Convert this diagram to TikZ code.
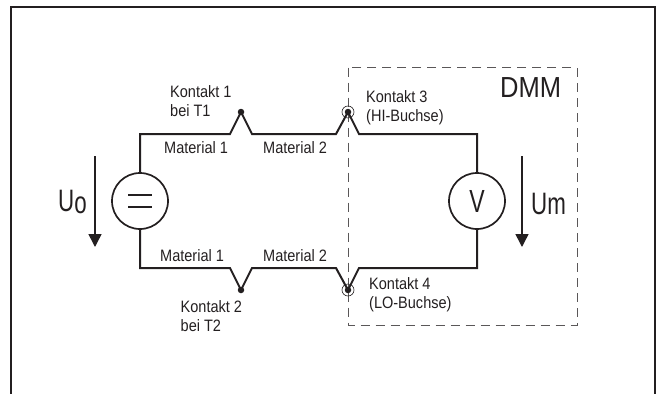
\documentclass[tikz,border=0pt]{standalone}
\usepackage{fontspec}
\setmainfont[FakeStretch=0.88]{Liberation Sans}
\newfontfamily\narrowfont[FakeStretch=0.72]{Liberation Sans}
\usetikzlibrary{arrows.meta}
\definecolor{ink}{HTML}{231F20}
\tikzset{
  lbl/.style={anchor=base west,inner sep=0pt,text=ink,font=\fontsize{16.5}{18}\selectfont},
  big/.style={anchor=base west,inner sep=0pt,text=ink,font=\fontsize{29}{30}\selectfont},
  tall/.style={anchor=base west,inner sep=0pt,text=ink,font=\narrowfont\fontsize{31}{32}\selectfont},
  wire/.style={draw=ink,line width=2pt,line join=miter},
  meter/.style={circle,draw=ink,line width=1.7pt,minimum size=56pt,inner sep=0pt,fill=white},
  dotc/.style={circle,fill=ink,inner sep=0pt,minimum size=6.5pt},
  ring/.style={circle,draw=ink,line width=0.6pt,inner sep=0pt,minimum size=12pt},
  varrow/.style={draw=ink,line width=1.5pt,-{Triangle[length=13pt,width=13pt]}},
  dmmbox/.style={draw=ink!75,line width=0.8pt,dash pattern=on 9pt off 6pt},
  frameline/.style={draw=ink,line width=2pt}
}
\begin{document}
\begin{tikzpicture}[x=1pt,y=-1pt]
\useasboundingbox (0,0) rectangle (657,394);
% frame
\coordinate (fa) at (11,394); \coordinate (fb) at (11,7);
\coordinate (fc) at (655,7); \coordinate (fd) at (655,394);
\draw[frameline] (fa) -- (fb) -- (fc) -- (fd);
% DMM box
\coordinate (d1) at (348,67.5); \coordinate (d2) at (577,325);
\draw[dmmbox] (d1) rectangle (d2);
% contacts
\node[dotc] (c1) at (241,112) {};
\node[dotc] (c2) at (241,290) {};
\node[dotc] (c3) at (348,112) {};
\node[dotc] (c4) at (348,290) {};
\node[ring] (r3) at (348,112) {};
\node[ring] (r4) at (348,290) {};
\coordinate (c1l) at (230,134); \coordinate (c1r) at (252,134);
\coordinate (c3l) at (336,134); \coordinate (c3r) at (359,134);
\coordinate (c2l) at (230,268); \coordinate (c2r) at (252,268);
\coordinate (c4l) at (336,268); \coordinate (c4r) at (359,268);
% meters
\node[meter] (src) at (140,201) {};
\node[meter] (vm) at (477,201) {};
\draw[wire] (src.north) |- (c1l) -- (c1.center) -- (c1r) -- (c3l) -- (c3.center) -- (c3r) -| (vm.north);
\draw[wire] (src.south) |- (c2l) -- (c2.center) -- (c2r) -- (c4l) -- (c4.center) -- (c4r) -| (vm.south);
% equals sign
\coordinate (e1) at (128,195); \coordinate (e2) at (152,195);
\coordinate (e3) at (128,207); \coordinate (e4) at (152,207);
\draw[draw=ink,line width=1.8pt] (e1) -- (e2) (e3) -- (e4);
\node[anchor=center,inner sep=0pt,text=ink,font=\narrowfont\fontsize{32}{32}\selectfont] (vl) at (477,201) {V};
% voltage arrows
\coordinate (a1) at (95,156); \coordinate (a2) at (95,247);
\coordinate (b1) at (522,156); \coordinate (b2) at (522,247);
\draw[varrow] (a1) -- (a2);
\draw[varrow] (b1) -- (b2);
% labels
\node[tall] (u0) at (58,211) {U\raisebox{-2.5pt}{o}};
\node[tall] (um) at (531,214) {Um};
\node[big] (dmm) at (500,97) {DMM};
\node[lbl] (k1) at (170,97) {Kontakt 1};
\node[lbl] (k1b) at (170,116) {bei T1};
\node[lbl] (m1) at (164,153) {Material 1};
\node[lbl] (m2) at (263,153) {Material 2};
\node[lbl] (m3) at (160,261) {Material 1};
\node[lbl] (m4) at (263,261) {Material 2};
\node[lbl] (k2) at (180.5,312) {Kontakt 2};
\node[lbl] (k2b) at (180.5,331) {bei T2};
\node[lbl] (k3) at (366,102) {Kontakt 3};
\node[lbl] (k3b) at (366,121) {(HI-Buchse)};
\node[lbl] (k4) at (369,289) {Kontakt 4};
\node[lbl] (k4b) at (369,308) {(LO-Buchse)};
\end{tikzpicture}
\end{document}
